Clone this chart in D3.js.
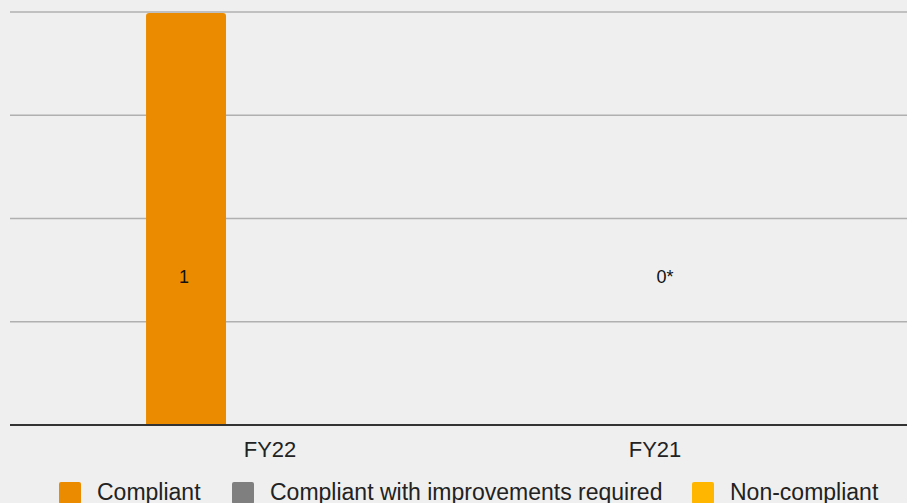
<!DOCTYPE html>
<html>
<head>
<meta charset="utf-8">
<script src="https://cdn.jsdelivr.net/npm/d3@7"></script>
<style>
  html, body { margin: 0; padding: 0; background: #efefef; }
  svg { display: block; font-family: "Liberation Sans", Arial, sans-serif; }
</style>
</head>
<body>
<svg id="chart" width="907" height="503"></svg>
<script>
const categories = ['FY22', 'FY21']
const seriesNames = ['Compliant', 'Compliant with improvements required', 'Non-compliant']
const seriesColors = ['#eb8c00', '#7f7f7f', '#ffb600']
const compliant = [1, 0]
const improvements = [0, 0]
const nonCompliant = [0, 0]
const valueLabels = ['1', '0*']
const yTicks = [0, 0.25, 0.5, 0.75, 1]

const svg = d3.select('#chart')
const plotLeft = 10, plotRight = 907, plotTop = 12, plotBottom = 425

const seriesValues = [compliant, improvements, nonCompliant]
const rows = categories.map((c, i) => ({
    cat: c,
    vals: seriesValues.map((s, j) => ({ name: seriesNames[j], color: seriesColors[j], v: s[i] }))
}))

const x0 = d3.scaleBand()
    .domain(categories)
    .range([77.5, 847.5])
    .paddingInner(0.356)
    .paddingOuter(0.178)

const x1 = d3.scaleBand()
    .domain(seriesNames)
    .range([0, x0.bandwidth()])
    .paddingInner(0.0476)

const y = d3.scaleLinear()
    .domain([0, 1])
    .range([plotBottom, plotTop])

// gridlines
svg.append('g')
    .selectAll('line')
    .data(yTicks.filter(t => t > 0))
    .join('line')
    .attr('x1', plotLeft).attr('x2', plotRight)
    .attr('y1', d => y(d)).attr('y2', d => y(d))
    .attr('stroke', '#b0b0b0')
    .attr('stroke-width', 1.6)

// bars
const groups = svg.append('g')
    .selectAll('g')
    .data(rows)
    .join('g')
    .attr('transform', d => `translate(${x0(d.cat)},0)`)

groups.selectAll('path')
    .data(d => d.vals.filter(v => v.v > 0))
    .join('path')
    .attr('fill', d => d.color)
    .attr('d', d => {
        const bx = x1(d.name), bw = x1.bandwidth()
        const top = y(d.v) + 1, bot = y(0), r = 3
        return `M${bx},${bot}V${top + r}Q${bx},${top} ${bx + r},${top}H${bx + bw - r}Q${bx + bw},${top} ${bx + bw},${top + r}V${bot}Z`
    })

// value labels
svg.append('g')
    .selectAll('text')
    .data(rows)
    .join('text')
    .attr('x', (d, i) => i === 0 ? x0(d.cat) + x1(seriesNames[0]) + x1.bandwidth() / 2 - 2 : x0(d.cat) + x0.bandwidth() / 2 + 10)
    .attr('y', y(0.355))
    .attr('text-anchor', 'middle')
    .attr('dominant-baseline', 'middle')
    .attr('font-size', 18)
    .attr('fill', '#111')
    .text((d, i) => valueLabels[i])

// baseline
svg.append('line')
    .attr('x1', plotLeft).attr('x2', plotRight)
    .attr('y1', y(0)).attr('y2', y(0))
    .attr('stroke', '#333')
    .attr('stroke-width', 2)

// x axis labels
const xAxis = svg.append('g')
    .attr('transform', `translate(0,${plotBottom})`)
    .call(d3.axisBottom(x0).tickSize(0).tickPadding(16))
xAxis.select('.domain').remove()
xAxis.selectAll('text')
    .attr('font-size', 22)
    .attr('fill', '#222')
    .attr('font-family', '"Liberation Sans", Arial, sans-serif')
    .attr('dy', '0.71em')

// legend
const legendX = [59, 232, 692]
const legend = svg.append('g')
    .selectAll('g')
    .data(seriesNames)
    .join('g')
    .attr('transform', (d, i) => `translate(${legendX[i]},482)`)
legend.append('rect')
    .attr('width', 22).attr('height', 22)
    .attr('rx', 2)
    .attr('fill', (d, i) => seriesColors[i])
legend.append('text')
    .attr('x', 38).attr('y', 18)
    .attr('font-size', 23)
    .attr('fill', '#222')
    .text(d => d)
</script>
</body>
</html>
